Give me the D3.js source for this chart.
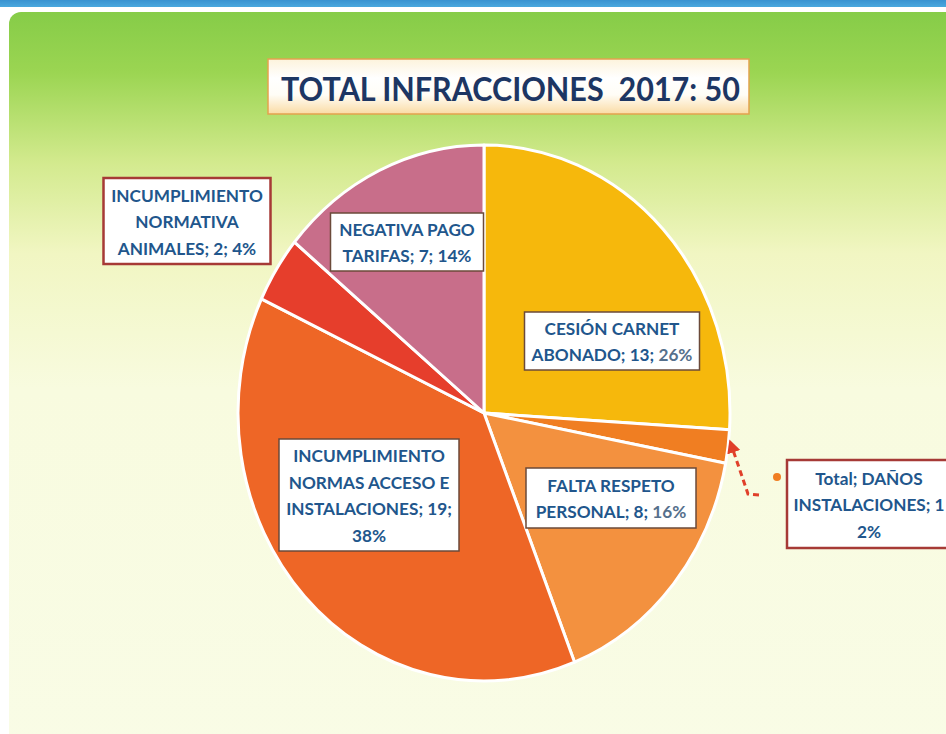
<!DOCTYPE html>
<html>
<head>
<meta charset="utf-8">
<script src="https://cdn.jsdelivr.net/npm/d3@7"></script>
<style>
  html, body { margin: 0; padding: 0; background: #ffffff; overflow: hidden; }
  svg { display: block; }
</style>
</head>
<body>
<svg id="chart" width="946" height="734"></svg>
<script>
// ---------- data ----------
const title = "TOTAL INFRACCIONES\u00a0\u00a02017: 50";
const categories = [
  "CESIÓN CARNET ABONADO",
  "DAÑOS INSTALACIONES",
  "FALTA RESPETO PERSONAL",
  "INCUMPLIMIENTO NORMAS ACCESO E INSTALACIONES",
  "INCUMPLIMIENTO NORMATIVA ANIMALES",
  "NEGATIVA PAGO TARIFAS"
];
const values = [13, 1, 8, 19, 2, 7];
const percents = ["26%", "2%", "16%", "38%", "4%", "14%"];
// label text lines as shown on the chart
const labelLines = [
  ["CESIÓN CARNET", "ABONADO; 13; |26%"],
  ["Total; DAÑOS", "INSTALACIONES; 1", "2%"],
  ["FALTA RESPETO", "PERSONAL; 8; |16%"],
  ["INCUMPLIMIENTO", "NORMAS ACCESO E", "INSTALACIONES; 19;", "38%"],
  ["INCUMPLIMIENTO", "NORMATIVA", "ANIMALES; 2; 4%"],
  ["NEGATIVA PAGO", "TARIFAS; 7; 14%"]
];

// ---------- style / layout ----------
const colors = ["#F6B80C", "#F07E22", "#F3913F", "#EE6626", "#E63E2C", "#C86E8A"];
const W = 946, H = 734;
const cx = 484, cy = 413, rx = 246, ry = 268;
// label box centres & sizes (layout)
const labelBox = [
  {x: 612, y: 341, w: 175, h: 58, outside: false},
  {x: 875, y: 504, w: 176, h: 88, outside: true, tx: 869},
  {x: 611, y: 498, w: 170, h: 60, outside: false},
  {x: 369, y: 495, w: 180, h: 112, outside: false},
  {x: 187, y: 221, w: 167, h: 86, outside: true},
  {x: 407, y: 242, w: 153, h: 58, outside: false}
];
const lineH = 26.5;

const svg = d3.select("#chart");
const defs = svg.append("defs");

// background gradients
const bg = defs.append("linearGradient").attr("id", "bg").attr("x1", 0).attr("y1", 0).attr("x2", 0).attr("y2", 1);
[[0, "#86CC48"], [0.08, "#9BD552"], [0.2, "#D3EA8E"], [0.32, "#F1F6C2"], [0.5, "#F8FBDF"], [1, "#F9FCE6"]]
  .forEach(([o, c]) => bg.append("stop").attr("offset", o).attr("stop-color", c));
const strip = defs.append("linearGradient").attr("id", "strip").attr("x1", 0).attr("y1", 0).attr("x2", 0).attr("y2", 1);
[[0, "#2F86C8"], [1, "#4AA8DE"]].forEach(([o, c]) => strip.append("stop").attr("offset", o).attr("stop-color", c));
const tg = defs.append("linearGradient").attr("id", "tg").attr("x1", 0).attr("y1", 0).attr("x2", 0).attr("y2", 1);
[[0, "#FDF3DC"], [0.35, "#FFFFFF"], [0.65, "#FFFDF6"], [1, "#FADBA4"]]
  .forEach(([o, c]) => tg.append("stop").attr("offset", o).attr("stop-color", c));
defs.append("marker").attr("id", "arrow").attr("viewBox", "0 0 10 10")
  .attr("refX", 4).attr("refY", 5).attr("markerWidth", 4.5).attr("markerHeight", 4.5)
  .attr("markerUnits", "strokeWidth")
  .attr("orient", "auto")
  .append("path").attr("d", "M0,0 L10,5 L0,10 z").attr("fill", "#E0402A");

svg.append("rect").attr("width", W).attr("height", H).attr("fill", "#ffffff");
svg.append("rect").attr("x", 0).attr("y", -4).attr("width", W).attr("height", 11).attr("fill", "url(#strip)");
svg.append("rect").attr("x", 9).attr("y", 12).attr("width", W + 20).attr("height", H + 20)
  .attr("rx", 12).attr("fill", "url(#bg)");

// title
svg.append("rect").attr("x", 268).attr("y", 59).attr("width", 481).attr("height", 55)
  .attr("fill", "url(#tg)").attr("stroke", "#E3A24E").attr("stroke-width", 1.5);
svg.append("text").attr("x", 281).attr("y", 101)
  .attr("font-family", "Lato, 'Open Sans', sans-serif").attr("font-weight", 700)
  .attr("font-size", 32).attr("fill", "#1D3663")
  .attr("textLength", 459).attr("lengthAdjust", "spacingAndGlyphs")
  .text(title);

// pie
const pie = d3.pie().sort(null).value(d => d)(values);
const arc = d3.arc().innerRadius(0).outerRadius(ry);
const pg = svg.append("g").attr("transform", `translate(${cx},${cy}) scale(${rx / ry},1)`);
pg.selectAll("path").data(pie).join("path")
  .attr("d", arc)
  .attr("fill", (d, i) => colors[i])
  .attr("stroke", "#FFFFFF").attr("stroke-width", 3)
  .attr("vector-effect", "non-scaling-stroke")
  .attr("stroke-linejoin", "round");

// labels
const lg = svg.append("g").attr("font-family", "Lato, 'Open Sans', sans-serif")
  .attr("font-weight", 700).attr("font-size", 17.2);
labelBox.forEach((b, i) => {
  const g = lg.append("g");
  g.append("rect").attr("x", b.x - b.w / 2).attr("y", b.y - b.h / 2)
    .attr("width", b.w).attr("height", b.h).attr("fill", "#FFFFFF")
    .attr("stroke", b.outside ? "#A63A36" : "#6B4A3A")
    .attr("stroke-width", b.outside ? 2.5 : 1.5);
  const lines = labelLines[i];
  const y0 = b.y - (lines.length - 1) * lineH / 2;
  lines.forEach((ln, k) => {
    const t = g.append("text").attr("x", b.tx || b.x).attr("y", y0 + k * lineH)
      .attr("text-anchor", "middle").attr("dominant-baseline", "central")
      .attr("fill", "#21568C");
    const parts = ln.split("|");
    t.append("tspan").text(parts[0]);
    if (parts[1]) t.append("tspan").attr("fill", "#55708C").text(parts[1]);
  });
});

// leader arrow for the small slice (index 1)
const sl = pie[1];
const mid = (sl.startAngle + sl.endAngle) / 2;
const tip = [cx + (rx + 4) * Math.sin(mid), cy - (ry + 4) * Math.cos(mid)];
const b1 = labelBox[1];
const start = [b1.x - b1.w / 2 - 28, b1.y - 9];
const bend = [start[0] - 11, start[1] - 1];
svg.append("path")
  .attr("d", d3.line()([start, bend, tip]))
  .attr("fill", "none").attr("stroke", "#E0402A").attr("stroke-width", 3)
  .attr("stroke-dasharray", "6,4").attr("marker-end", "url(#arrow)");
// legend key dot
svg.append("circle").attr("cx", b1.x - b1.w / 2 - 10).attr("cy", b1.y - 27)
  .attr("r", 4).attr("fill", colors[1]);
</script>
</body>
</html>
